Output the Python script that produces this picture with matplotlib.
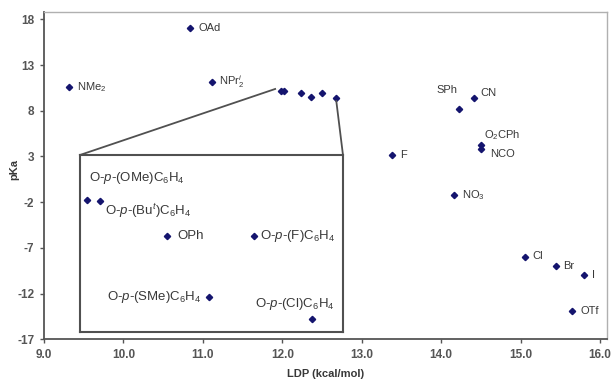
import matplotlib
matplotlib.use("Agg")
import matplotlib.pyplot as plt
import numpy as np

plt.rcParams['font.family'] = ['Liberation Sans', 'DejaVu Sans']
plt.rcParams['mathtext.fontset'] = 'custom'
plt.rcParams['mathtext.rm'] = 'Liberation Sans'
plt.rcParams['mathtext.it'] = 'Liberation Sans:italic'
plt.rcParams['mathtext.bf'] = 'Liberation Sans:bold'

# ---- main data (LDP kcal/mol, pKa) ----
main_labels = ['NMe$_2$', 'OAd', 'NPr$^i_2$', 'SPh', 'CN', 'O$_2$CPh', 'NCO',
               'F', 'NO$_3$', 'Cl', 'Br', 'I', 'OTf']
main_x = [9.31, 10.84, 11.12, 14.22, 14.41, 14.50, 14.50,
          13.38, 14.16, 15.05, 15.45, 15.80, 15.65]
main_y = [10.64, 17.0, 11.1, 8.2, 9.4, 4.2, 3.8,
          3.17, -1.2, -8.0, -8.95, -9.95, -13.9]
# label offsets in pixels (dx, dy)
main_off = [(8, 0), (8, 0), (7, 1), (-22, 19), (7, 5), (3, 10), (9, -5),
            (8, 0), (8, 0), (8, 1), (7, 0), (8, 0), (8, 0)]

# ---- aryloxide cluster (shown magnified in inset) ----
clus_labels = ['O-$\\mathit{p}$-(OMe)C$_6$H$_4$', 'O-$\\mathit{p}$-(Bu$^t$)C$_6$H$_4$',
               'OPh', 'O-$\\mathit{p}$-(SMe)C$_6$H$_4$', 'O-$\\mathit{p}$-(F)C$_6$H$_4$',
               'O-$\\mathit{p}$-(Cl)C$_6$H$_4$']
clus_x = [11.98, 12.02, 12.23, 12.36, 12.50, 12.68]
clus_y = [10.20, 10.19, 9.95, 9.53, 9.95, 9.38]
clus_off = [(2, 22, 'left'), (5, -9, 'left'), (10, 0, 'left'), (-8, 0, 'right'),
            (6, 0, 'left'), (-57, 15, 'left')]

xticks = [9.0, 10.0, 11.0, 12.0, 13.0, 14.0, 15.0, 16.0]
yticks = [-17, -12, -7, -2, 3, 8, 13, 18]

mk_color = '#14146e'
axis_col = '#555555'
txt_col = '#383838'

fig = plt.figure(figsize=(6.13, 3.81), dpi=100)
ax = fig.add_axes([44/613, 1-339.3/381, (607-44)/613, (339.3-12)/381])
ax.set_xlim(9.0, 16.088)
ax.set_ylim(-17, 18.8)

ax.plot(main_x, main_y, linestyle='none', marker='D', markersize=3.2,
        color=mk_color)
ax.plot(clus_x, clus_y, linestyle='none', marker='D', markersize=3.2,
        color=mk_color)
for lab, x, y, (dx, dy) in zip(main_labels, main_x, main_y, main_off):
    ax.annotate(lab, (x, y), xytext=(dx, dy), textcoords='offset pixels',
                ha='left', va='center', fontsize=8, color=txt_col)

ax.set_xticks(xticks)
ax.set_xticklabels([f'{t:.1f}' for t in xticks])
ax.set_yticks(yticks)
ax.set_yticklabels([str(t) for t in yticks])
ax.tick_params(direction='out', length=3, width=1, color=axis_col,
               labelsize=8.5, labelcolor='#555555', pad=4)
for t in ax.get_xticklabels() + ax.get_yticklabels():
    t.set_fontweight('bold')
for s in ['left', 'bottom']:
    ax.spines[s].set_color(axis_col)
    ax.spines[s].set_linewidth(1.3)
for s in ['top', 'right']:
    ax.spines[s].set_color('#b0b0b0')
    ax.spines[s].set_linewidth(1.0)

ax.set_xlabel('LDP (kcal/mol)', fontsize=8, fontweight='bold', color=txt_col,
              labelpad=6)
ax.set_ylabel('pKa', fontsize=8, fontweight='bold', color=txt_col)
ax.yaxis.label.set_va('center')
ax.yaxis.set_label_coords(-0.052, 0.52)

# ---- inset ----
ins_left, ins_right, ins_bot, ins_top = 9.453, 12.764, -16.20, 3.16
ins = ax.inset_axes([ins_left, ins_bot, ins_right - ins_left, ins_top - ins_bot],
                    transform=ax.transData)
ins.set_xlim(11.957, 12.778)
ins.set_ylim(9.293, 10.509)
ins.set_xticks([])
ins.set_yticks([])
for s in ins.spines.values():
    s.set_color('#505050')
    s.set_linewidth(1.5)
ins.plot(clus_x, clus_y, linestyle='none', marker='D', markersize=3.2,
         color=mk_color)
for lab, x, y, (dx, dy, ha) in zip(clus_labels, clus_x, clus_y, clus_off):
    ins.annotate(lab, (x, y), xytext=(dx, dy), textcoords='offset pixels',
                 ha=ha, va='center', fontsize=9.5, color=txt_col)

# connector lines from inset to cluster
ax.plot([ins_left, min(clus_x) - 0.07], [ins_top, max(clus_y) + 0.18],
        color='#505050', lw=1.3)
ax.plot([ins_right, max(clus_x)], [ins_top, min(clus_y) - 0.32],
        color='#505050', lw=1.3)

fig.savefig('out.png', dpi=100)
